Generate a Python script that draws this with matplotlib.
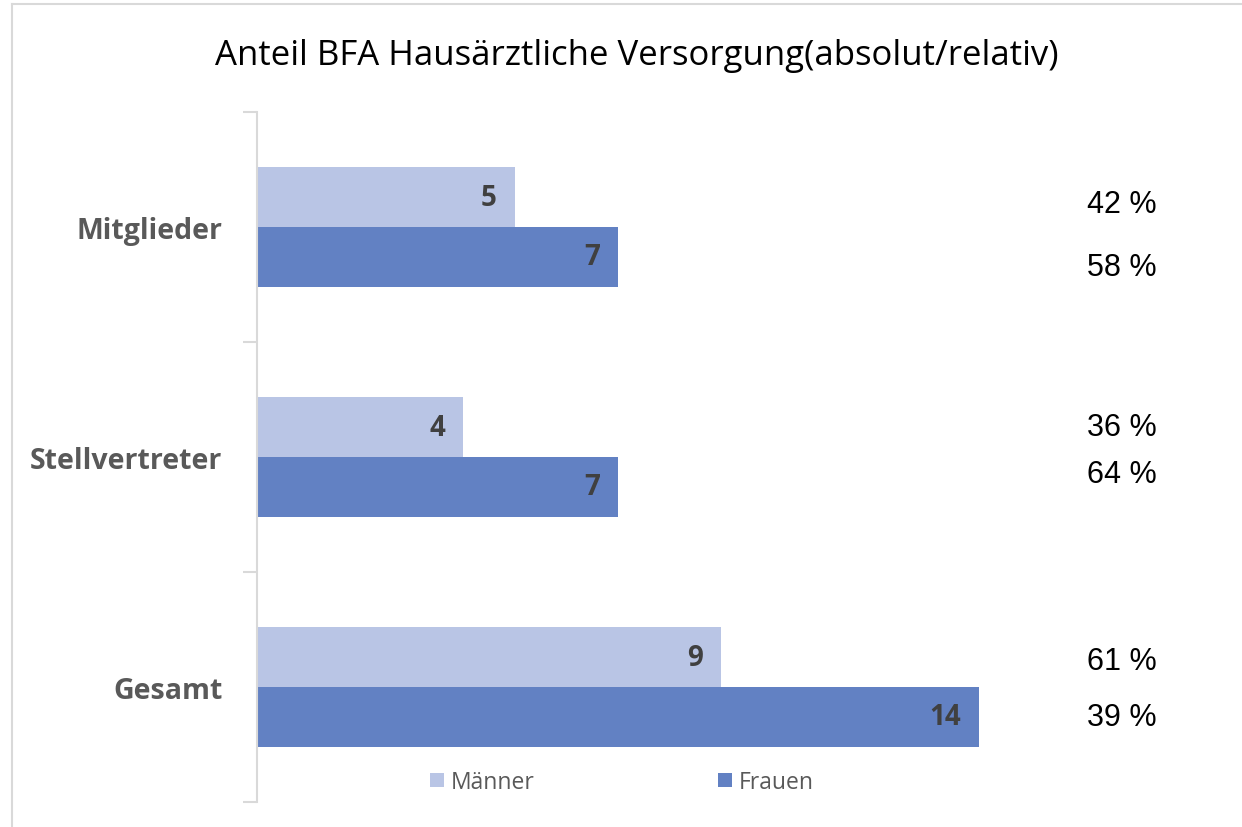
import matplotlib.pyplot as plt
from matplotlib.lines import Line2D
import numpy as np

categories = ["Mitglieder", "Stellvertreter", "Gesamt"]
maenner = [5, 4, 9]
frauen = [7, 7, 14]
pct_maenner = ["42 %", "36 %", "61 %"]
pct_frauen = ["58 %", "64 %", "39 %"]
title = "Anteil BFA Hausärztliche Versorgung(absolut/relativ)"

c_light = "#b9c5e5"
c_dark = "#6281c3"

# vertical offsets of the percentage texts relative to the category centre
off_m = [-0.100, -0.130, -0.113]
off_f = [0.174, 0.074, 0.130]

fig = plt.figure(figsize=(12.42, 8.28), dpi=100)
ax = fig.add_axes([257 / 1242, 25 / 828, (1185 - 257) / 1242, 690 / 828])

y = np.arange(len(categories))
h = 0.26
b1 = ax.barh(y - h / 2, maenner, height=h, color=c_light, label="Männer")
b2 = ax.barh(y + h / 2, frauen, height=h, color=c_dark, label="Frauen")

for bars, vals in [(b1, maenner), (b2, frauen)]:
    for bar, v in zip(bars, vals):
        ax.text(bar.get_width() - 0.35, bar.get_y() + bar.get_height() / 2, str(v),
                ha="right", va="center", fontsize=20, fontweight="bold",
                color="#404040", family="Open Sans")

for i in range(len(categories)):
    ax.text(16.1, y[i] + off_m[i], pct_maenner[i], ha="left", va="center",
            fontsize=22, family="Liberation Sans", color="black")
    ax.text(16.1, y[i] + off_f[i], pct_frauen[i], ha="left", va="center",
            fontsize=22, family="Liberation Sans", color="black")

ax.set_xlim(0, 18)
ax.set_ylim(2.5, -0.5)
ax.set_yticks([-0.5, 0.5, 1.5, 2.5])
ax.set_yticklabels([])
ax.set_yticks(y, minor=True)
ax.set_yticklabels(categories, minor=True, fontsize=20.5, fontweight="bold",
                   color="#595959", family="Open Sans")
ax.tick_params(axis="y", which="minor", length=0, pad=25)
ax.tick_params(axis="y", which="major", length=10, color="#d9d9d9", width=1.5)
ax.set_xticks([])
for s in ["top", "right", "bottom"]:
    ax.spines[s].set_visible(False)
ax.spines["left"].set_color("#d9d9d9")
ax.spines["left"].set_linewidth(1.5)

fig.text(637 / 1242, 1 - 56 / 828, title, ha="center", va="center",
         fontsize=25, family="Open Sans", color="black")

fig.legend(handles=[b1, b2], loc="center", bbox_to_anchor=(622 / 1242, 1 - 783 / 828),
           ncol=2, frameon=False, columnspacing=8.0, handlelength=0.6,
           handleheight=0.6, handletextpad=0.3, labelcolor="#595959",
           prop={"family": "Open Sans", "size": 16.5})

fig.add_artist(Line2D([12 / 1242, 12 / 1242], [0, 1 - 5 / 828], color="#d9d9d9", lw=1.5))
fig.add_artist(Line2D([12 / 1242, 1], [1 - 5 / 828, 1 - 5 / 828], color="#d9d9d9", lw=1.5))

fig.savefig("out.png", dpi=100)
